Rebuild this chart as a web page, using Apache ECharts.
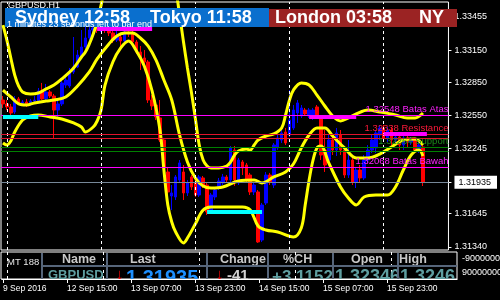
<!DOCTYPE html>
<html><head><meta charset="utf-8">
<script src="https://cdn.jsdelivr.net/npm/echarts@6/dist/echarts.min.js"></script>
<style>html,body{margin:0;padding:0;background:#000;}#c{width:500px;height:300px;}</style>
</head><body><div id="c"></div>
<script>
// ---------- data ----------
const barCount = 114;
const categories = Array.from({length: barCount}, (_, i) => i);
const timeLabels = ['9 Sep 2016', '12 Sep 15:00', '13 Sep 07:00', '13 Sep 23:00', '14 Sep 15:00', '15 Sep 07:00', '15 Sep 23:00'];
const labelEvery = 16;
const priceTicks = [1.33455, 1.33150, 1.32850, 1.32550, 1.32245, 1.31935, 1.31645, 1.31340];
const currentPrice = 1.31935;
const daySeparators = [1, 25, 49, 73, 97];

// [open, close, low, high]
const candles = [
 [1.32691,1.32655,1.32618,1.32728],[1.32655,1.32627,1.32599,1.32691],[1.32627,1.32572,1.32553,1.32655],[1.32581,1.32701,1.32563,1.32728],
 [1.32701,1.32664,1.32645,1.32719],[1.32664,1.32673,1.32636,1.32691],[1.32673,1.32655,1.32627,1.32701],[1.32655,1.32682,1.32636,1.32701],
 [1.32682,1.32691,1.32655,1.32728],[1.32682,1.32774,1.32664,1.32802],[1.32774,1.32701,1.32691,1.32848],[1.32701,1.32765,1.32691,1.32839],
 [1.32765,1.32728,1.32710,1.32783],[1.32728,1.32599,1.32342,1.32747],[1.32599,1.32655,1.32526,1.32691],[1.32655,1.32848,1.32636,1.32875],
 [1.32829,1.32875,1.32802,1.32903],[1.32820,1.32949,1.32802,1.32986],[1.32949,1.32995,1.32931,1.33271],[1.32995,1.33105,1.32986,1.33151],
 [1.33096,1.33179,1.33078,1.33335],[1.33179,1.33262,1.33161,1.33381],[1.33262,1.33335,1.33243,1.33409],[1.33335,1.33354,1.33308,1.33427],
 [1.33354,1.33335,1.33308,1.33391],[1.33335,1.33363,1.33317,1.33409],[1.33363,1.33335,1.33308,1.33400],[1.33335,1.33308,1.33280,1.33372],
 [1.33308,1.33243,1.33216,1.33354],[1.33243,1.33271,1.33225,1.33335],[1.33271,1.33234,1.33170,1.33299],[1.33234,1.33317,1.33207,1.33354],
 [1.33317,1.33299,1.33271,1.33363],[1.33299,1.33225,1.33207,1.33335],[1.33225,1.33133,1.33115,1.33243],[1.33133,1.33078,1.32967,1.33188],
 [1.33078,1.33041,1.33013,1.33151],[1.33041,1.32691,1.32664,1.33059],[1.32691,1.32636,1.32599,1.32737],[1.32645,1.32535,1.32507,1.32691],
 [1.32526,1.32323,1.32305,1.32691],[1.32323,1.32066,1.32029,1.32342],[1.32029,1.31845,1.31799,1.32075],[1.31808,1.31836,1.31679,1.31909],
 [1.31799,1.31983,1.31771,1.32001],[1.31955,1.32112,1.31937,1.32139],[1.32029,1.31836,1.31771,1.32093],[1.31836,1.31928,1.31808,1.31955],
 [1.31983,1.31891,1.31863,1.32001],[1.31928,1.31817,1.31799,1.31955],[1.31817,1.31983,1.31799,1.32001],[1.31974,1.31909,1.31882,1.31992],
 [1.31909,1.31661,1.31633,1.31928],[1.31679,1.31817,1.31652,1.31836],[1.31799,1.31863,1.31771,1.31891],[1.31891,1.31946,1.31863,1.31974],
 [1.31928,1.31983,1.31909,1.32011],[1.31983,1.31955,1.31937,1.32001],[1.31955,1.32250,1.31937,1.32268],[1.32231,1.31955,1.31900,1.32268],
 [1.31928,1.32139,1.31909,1.32158],[1.32121,1.32066,1.32001,1.32139],[1.32093,1.31955,1.31937,1.32112],[1.32001,1.31845,1.31817,1.32020],
 [1.31845,1.31909,1.31817,1.31928],[1.31845,1.31385,1.31376,1.31863],[1.31403,1.31725,1.31385,1.31744],[1.31744,1.32001,1.31725,1.32029],
 [1.32001,1.31937,1.31909,1.32020],[1.31909,1.32277,1.31882,1.32296],[1.32250,1.32342,1.32231,1.32369],[1.32323,1.32388,1.32296,1.32415],
 [1.32397,1.32296,1.32277,1.32434],[1.32369,1.32507,1.32351,1.32783],[1.32434,1.32599,1.32415,1.32645],[1.32572,1.32664,1.32480,1.32691],
 [1.32544,1.32618,1.32526,1.32645],[1.32599,1.32563,1.32544,1.32618],[1.32544,1.32599,1.32526,1.32618],[1.32535,1.32599,1.32507,1.32618],
 [1.32627,1.32553,1.32535,1.32645],[1.32526,1.32185,1.32139,1.32553],[1.32231,1.32093,1.32029,1.32415],[1.32139,1.32323,1.32093,1.32369],
 [1.32323,1.32231,1.32185,1.32369],[1.32231,1.32388,1.32176,1.32434],[1.32369,1.32231,1.32185,1.32415],[1.32231,1.32001,1.31974,1.32250],
 [1.32001,1.32139,1.31974,1.32323],[1.32139,1.31937,1.31909,1.32158],[1.31937,1.32047,1.31882,1.32066],[1.32047,1.31974,1.31928,1.32093],
 [1.31974,1.32139,1.31955,1.32185],[1.32139,1.32231,1.32112,1.32277],[1.32231,1.32323,1.32204,1.32369],[1.32250,1.32388,1.32204,1.32415],
 [1.32369,1.32434,1.32323,1.32461],[1.32434,1.32342,1.32305,1.32461],[1.32342,1.32415,1.32305,1.32443],[1.32415,1.32323,1.32277,1.32443],
 [1.32323,1.32351,1.32296,1.32388],[1.32351,1.32277,1.32231,1.32369],[1.32277,1.32342,1.32231,1.32369],[1.32342,1.32305,1.32250,1.32369],
 [1.32305,1.32323,1.32277,1.32351],[1.32323,1.32231,1.32204,1.32342],[1.32231,1.32277,1.32204,1.32305],[1.32259,1.31937,1.31900,1.32296]
];

// band lines: [bar index, price]
const upperBand = [
 [0,1.33381],[1,1.33243],[2,1.33078],[3,1.32921],[4,1.32820],[5,1.32765],[7,1.32747],[9,1.32756],[11,1.32793],[13,1.32829],
 [15,1.32885],[18,1.32986],[20,1.33087],[21,1.33133],[22,1.33207],[23,1.33299],[24,1.33409],[25,1.33565],[26,1.33722],[28,1.33887],
 [33,1.34025],[38,1.33979],[42,1.33841],[44,1.33685],[45,1.33473],[46,1.33225],[47,1.32986],[48,1.32765],[49,1.32526],[50,1.32277],
 [51,1.32139],[52,1.32084],[53,1.32066],[55,1.32066],[57,1.32084],[58,1.32121],[59,1.32185],[60,1.32222],[62,1.32240],[63,1.32231],
 [64,1.32277],[65,1.32323],[67,1.32360],[69,1.32379],[71,1.32434],[72,1.32553],[73,1.32691],[74,1.32783],[76,1.32848],[78,1.32829],
 [80,1.32737],[82,1.32636],[84,1.32544],[86,1.32498],[88,1.32526],[90,1.32563],[93,1.32599],[96,1.32581],[100,1.32553],[103,1.32526],
 [105,1.32526],[107,1.32572]
];
const middleBand = [
 [0,1.32783],[2,1.32719],[4,1.32655],[6,1.32645],[8,1.32664],[11,1.32682],[13,1.32691],[16,1.32719],[19,1.32820],[22,1.32949],
 [24,1.33069],[27,1.33207],[29,1.33280],[31,1.33308],[33,1.33308],[35,1.33262],[37,1.33188],[39,1.33059],[41,1.32875],[43,1.32691],
 [45,1.32369],[47,1.32121],[49,1.31974],[51,1.31900],[53,1.31882],[56,1.31891],[60,1.31946],[64,1.31955],[66,1.31928],[69,1.31983],
 [72,1.32029],[74,1.32102],[76,1.32250],[78,1.32369],[80,1.32434],[82,1.32434],[84,1.32360],[87,1.32250],[90,1.32158],[93,1.32158],
 [96,1.32194],[99,1.32259],[102,1.32323],[105,1.32332],[107,1.32277]
];
const lowerBand = [
 [0,1.32296],[1,1.32277],[2,1.32314],[3,1.32397],[5,1.32507],[7,1.32544],[9,1.32553],[12,1.32535],[15,1.32517],[18,1.32480],
 [20,1.32443],[21,1.32397],[23,1.32443],[24,1.32498],[25,1.32599],[26,1.32829],[28,1.33041],[30,1.33170],[32,1.33234],[34,1.33142],
 [36,1.33004],[38,1.32774],[40,1.32415],[41,1.32047],[42,1.31725],[43,1.31569],[44,1.31477],[46,1.31376],[47,1.31421],[49,1.31550],
 [51,1.31679],[53,1.31707],[57,1.31707],[61,1.31707],[63,1.31679],[65,1.31532],[67,1.31495],[70,1.31477],[74,1.31431],[76,1.31514],
 [77,1.31725],[78,1.31955],[79,1.32139],[80,1.32250],[81,1.32268],[83,1.32112],[86,1.31891],[88,1.31790],[90,1.31725],[92,1.31799],
 [95,1.31817],[98,1.31817],[100,1.31891],[102,1.32047],[104,1.32185],[106,1.32231],[107,1.32176]
];

// horizontal levels
const levelValues = [1.32548, 1.32375, 1.32338, 1.32259, 1.32223, 1.32068, 1.31935];
const levelNames  = ['1.32548 Batas Atas', '1.32338 Resistance', '', '1.32264 Support', '', '1.32068 Batas Bawah', ''];

// zone segments (start bar, end bar, price)
const zoneStart = [0, 52, 24, 78, 97];
const zoneEnd   = [9, 66, 38, 90, 108];
const zoneValue = [1.32535, 1.31661, 1.33344, 1.32535, 1.32378];

// session banner & quote table
const sessions = ['Sydney 12:58', 'Tokyo 11:58', 'London 03:58', 'NY'];
const timerText = '1 minutes 23 seconds left to bar end';
const symbolTitle = 'GBPUSD,H1';
const panelTitle = 'MT 188';
const tableHeaders = ['Name', 'Last', 'Change', '%CH', 'Open', 'High'];
const tableRow = ['GBPUSD', '1.31935', '-41', '+3.1152', '1.32346', '1.3246'];
const subAxisLabels = ['-90000000', '90000000'];

// ---------- styles / chart ----------
const FONT = '"Liberation Sans", Arial, sans-serif';
const levelColors = ['#ff00ff', '#e0142c', '#e0142c', '#008000', '#008000', '#ff00ff', '#778899'];
const levelTextColors = ['#ff20ff', '#ff1a3a', '#ff1a3a', '#1a8a1a', '#1a8a1a', '#ff20ff', '#778899'];
const zoneColors = ['#00ffff', '#00ffff', '#ff00ff', '#ff00ff', '#ff00ff'];

const chart = echarts.init(document.getElementById('c'));

const levelMarks = levelValues.map((v, k) => ({
  yAxis: v,
  lineStyle: {color: levelColors[k], width: 1, type: 'solid'},
  label: {show: !!levelNames[k], formatter: levelNames[k], position: 'insideEndTop',
          color: levelTextColors[k], fontSize: 9.5, fontFamily: FONT, distance: [0, 1]}
}));
const dayMarks = daySeparators.map(d => ({xAxis: d, label: {show: false},
  lineStyle: {color: '#ffffff', width: 1, type: [3, 3]}}));

const bandSeries = [upperBand, middleBand, lowerBand].map(b => ({
  type: 'line', xAxisIndex: 0, yAxisIndex: 0, data: b, smooth: 0.35,
  showSymbol: false, symbol: 'none', z: 4, silent: true,
  lineStyle: {color: '#ffff00', width: 3}
}));
const zoneSeries = zoneStart.map((s, k) => ({
  type: 'line', xAxisIndex: 0, yAxisIndex: 0, symbol: 'none', z: 5, silent: true,
  data: [[s, zoneValue[k]], [zoneEnd[k], zoneValue[k]]],
  lineStyle: {color: zoneColors[k], width: 4, cap: 'butt'}
}));

const hdrX = [62, 130, 220, 283, 351, 399];
const sepX = [42, 107, 207, 268, 333, 398];
const sessX = [15, 150, 275, 419];
const graphics = [];
graphics.push({type: 'text', z: 20, style: {text: symbolTitle, x: 8, y: 1, fill: '#fff', font: '9px ' + FONT}});
graphics.push({type: 'rect', z: 21, shape: {x: 5, y: 8, width: 264, height: 19}, style: {fill: '#0a6fce'}});
graphics.push({type: 'rect', z: 21, shape: {x: 269, y: 9, width: 188, height: 18}, style: {fill: '#9b2323'}});
sessions.forEach((t, k) => graphics.push({type: 'text', z: 22,
  style: {text: t, x: sessX[k], y: 18, verticalAlign: 'middle', fill: '#fff', font: 'bold 18px ' + FONT}}));
graphics.push({type: 'text', z: 23, style: {text: timerText, x: 7, y: 24.5, verticalAlign: 'middle', fill: '#fff', font: '9px ' + FONT}});
// table
graphics.push({type: 'text', z: 20, style: {text: panelTitle, x: 7, y: 262, verticalAlign: 'middle', fill: '#e8e8e8', font: '9.5px ' + FONT}});
tableHeaders.forEach((t, k) => graphics.push({type: 'text', z: 20,
  style: {text: t, x: hdrX[k], y: 259.5, verticalAlign: 'middle', fill: '#c8c8c8', font: 'bold 12.5px ' + FONT}}));
const rowX = [48, 126, 227, 272, 335, 400];
const rowFill = ['#5f9ea0', '#1e90ff', '#d0d0d0', '#5f9ea0', '#5f9ea0', '#5f9ea0'];
const rowSize = [13, 20, 15, 17, 18, 18];
tableRow.forEach((t, k) => graphics.push({type: 'text', z: 20,
  style: {text: t, x: rowX[k], y: 268.5, verticalAlign: 'top', fill: rowFill[k], font: 'bold ' + rowSize[k] + 'px ' + FONT}}));
[116, 216].forEach(x => graphics.push({type: 'text', z: 20,
  style: {text: '↓', x: x, y: 267, verticalAlign: 'top', fill: '#ff0000', font: 'bold 15px ' + FONT}}));
graphics.push({type: 'rect', z: 24, shape: {x: 2, y: 279.5, width: 456, height: 5}, style: {fill: '#000'}});
sepX.forEach(x => graphics.push({type: 'line', z: 25, shape: {x1: x, y1: 253, x2: x, y2: 279}, style: {stroke: '#56657a', lineWidth: 2}}));
graphics.push({type: 'line', z: 25, shape: {x1: 42, y1: 266, x2: 457, y2: 266}, style: {stroke: '#56657a', lineWidth: 2}});
graphics.push({type: 'line', z: 25, shape: {x1: 1.5, y1: 279.5, x2: 457.5, y2: 279.5}, style: {stroke: '#fff', lineWidth: 1}});
subAxisLabels.forEach((t, k) => graphics.push({type: 'text', z: 20,
  style: {text: t, x: 462, y: k ? 273 : 259, verticalAlign: 'middle', fill: '#fff', font: '9px ' + FONT}}));

const labelShown = i => i % labelEvery === 0 && i / labelEvery < timeLabels.length;

chart.setOption({
  animation: false,
  backgroundColor: '#000',
  grid: [
    {left: 1, right: 43, top: 2, height: 248, show: true, borderColor: '#fff', borderWidth: 1},
    {left: 1, right: 43, top: 252, height: 27, show: true, borderColor: '#fff', borderWidth: 1}
  ],
  xAxis: [
    {type: 'category', gridIndex: 0, data: categories, boundaryGap: true,
     axisLine: {show: false}, axisTick: {show: false}, axisLabel: {show: false}, splitLine: {show: false}},
    {type: 'category', gridIndex: 1, data: categories, boundaryGap: true, z: 30,
     axisLine: {show: false},
     axisTick: {show: true, alignWithLabel: true, interval: labelShown, length: 4, lineStyle: {color: '#fff'}},
     axisLabel: {show: true, interval: labelShown, formatter: (v, i) => timeLabels[i / labelEvery] || '',
                 align: 'left', color: '#fff', fontSize: 8.5, fontFamily: FONT, margin: 5}}
  ],
  yAxis: [
    {type: 'value', gridIndex: 0, position: 'right', min: 1.31311, max: 1.33593,
     splitLine: {show: false}, axisLine: {show: false},
     axisTick: {show: true, customValues: priceTicks, length: 3, lineStyle: {color: '#fff'}},
     axisLabel: {customValues: priceTicks, color: '#fff', fontSize: 9, fontFamily: FONT, margin: 6,
       formatter: v => Math.abs(v - currentPrice) < 1e-7 ? '{hl|' + v.toFixed(5) + '}' : v.toFixed(5),
       rich: {hl: {backgroundColor: '#fff', color: '#000', fontSize: 9, fontFamily: FONT, padding: [2, 6, 2, 4]}}}},
    {type: 'value', gridIndex: 1, min: 0, max: 1, show: false}
  ],
  series: [
    {type: 'line', xAxisIndex: 0, yAxisIndex: 0, data: [], silent: true, z: 1,
     markLine: {symbol: ['none', 'none'], silent: true, animation: false, precision: 5, data: dayMarks.concat(levelMarks)}},
    {type: 'candlestick', xAxisIndex: 0, yAxisIndex: 0, data: candles, barWidth: 3, z: 3, silent: true,
     itemStyle: {color: '#0000ff', color0: '#ff0000', borderColor: '#0000ff', borderColor0: '#ff0000', borderWidth: 1}},
    ...bandSeries,
    ...zoneSeries,
    {type: 'line', xAxisIndex: 1, yAxisIndex: 1, data: [], silent: true,
     markLine: {symbol: ['none', 'none'], silent: true, animation: false, label: {show: false},
                lineStyle: {color: '#fff', width: 1, type: [3, 3]},
                data: daySeparators.map(d => ({xAxis: d}))}}
  ],
  graphic: {elements: graphics}
});
</script>
</body></html>
